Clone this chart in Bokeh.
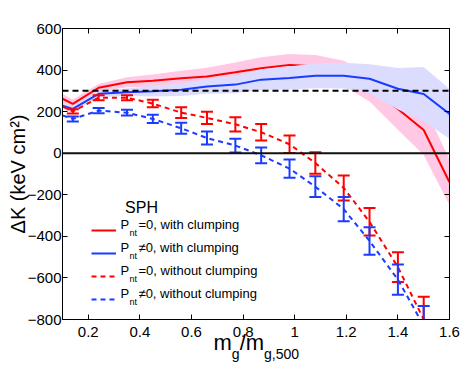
import numpy as np
from bokeh.plotting import figure
from bokeh.models import (Range1d, LinearAxis, FixedTicker, Span, Label,
                          Legend, LegendItem)
from bokeh.embed import file_html
from bokeh.resources import INLINE

# ---------------- data ----------------
x_solid = [0.10, 0.14, 0.24, 0.35, 0.45, 0.56, 0.66, 0.77, 0.87, 0.98,
           1.08, 1.19, 1.29, 1.40, 1.50, 1.60]
dk_nt0_clump = [262, 237, 315, 341, 349, 361, 369, 389, 409, 425,
                418, 385, 314, 213, 112, -140]
dk_nt0_clump_err = [23, 22, 18, 24, 30, 36, 42, 48, 53, 52,
                    55, 60, 65, 100, 120, 110]
dk_nt1_clump = [229, 213, 286, 293, 298, 305, 321, 330, 354, 362,
                373, 373, 358, 310, 285, 189]
dk_nt1_clump_err = [15, 15, 15, 18, 25, 30, 35, 42, 50, 55,
                    60, 62, 70, 100, 130, 120]

x_dash = [0.10, 0.14, 0.24, 0.35, 0.45, 0.56, 0.66, 0.77, 0.87, 0.98,
          1.08, 1.19, 1.29, 1.40, 1.50]
dk_nt0_noclump = [225, 201, 267, 267, 239, 195, 170, 139, 101, 43,
                  -47, -167, -330, -548, -800]
dk_nt0_noclump_err = [None, 10, 12, 12, 18, 26, 30, 34, 40, 42,
                      52, 60, 66, 72, 110]
dk_nt1_noclump = [182, 165, 205, 195, 165, 120, 73, 37, -10, -74,
                  -161, -269, -422, -608, -830]
dk_nt1_noclump_err = [None, 12, 13, 14, 20, 26, 31, 33, 38, 44,
                      50, 58, 66, 73, 95]

ref_level = 300
zero_level = 0

x_ticks = [0.2, 0.4, 0.6, 0.8, 1.0, 1.2, 1.4, 1.6]
x_tick_labels = ["0.2", "0.4", "0.6", "0.8", "1", "1.2", "1.4", "1.6"]
y_ticks = [-800, -600, -400, -200, 0, 200, 400, 600]
y_tick_labels = ["\u2212800", "\u2212600", "\u2212400", "\u2212200", "0", "200", "400", "600"]

y_title = "\u0394K (keV cm\u00b2)"
# x title "m_g / m_g,500": main-size pieces and subscript pieces
x_title_main = ["m", "/m"]
x_title_sub = ["g", "g,500"]
# horizontal anchor (in x-axis units) of each piece's centre
x_title_main_at = [0.721, 0.834]
x_title_sub_at = [0.771, 0.949]

legend_title = "SPH"
legend_main = ["P", "P", "P", "P"]
legend_sub = ["nt", "nt", "nt", "nt"]
legend_rest = ["=0, with clumping", "\u22600, with clumping",
               "=0, without clumping", "\u22600, without clumping"]

RED = "#ff0000"
BLUE = "#1a3cff"
PINK = "#ffc8e4"
LAV = "#dcdcff"
FONT = "Liberation Sans"

# ---------------- figure ----------------
p = figure(width=463, height=366, output_backend="svg", toolbar_location=None,
           x_range=Range1d(0.1, 1.6), y_range=Range1d(-800, 600),
           min_border_left=62, min_border_right=14, min_border_top=28,
           min_border_bottom=47)
p.grid.visible = False
p.outline_line_color = "black"
p.outline_line_width = 1
p.background_fill_color = "white"

xs = np.array(x_solid)
r0 = np.array(dk_nt0_clump); w0 = np.array(dk_nt0_clump_err)
r1 = np.array(dk_nt1_clump); w1 = np.array(dk_nt1_clump_err)

p.varea(x=xs, y1=r0 - w0, y2=r0 + w0, fill_color=PINK)
l_red = p.line(xs, r0, line_color=RED, line_width=2)
p.varea(x=xs, y1=r1 - w1, y2=r1 + w1, fill_color=LAV)
l_blue = p.line(xs, r1, line_color=BLUE, line_width=2)

p.add_layout(Span(location=ref_level, dimension="width", line_color="black",
                  line_width=2, line_dash="6 4"))
p.add_layout(Span(location=zero_level, dimension="width", line_color="#111111",
                  line_width=2))

def dashed_with_err(x, y, err, color):
    r = p.line(x, y, line_color=color, line_width=2, line_dash="5 4")
    xe = np.array([a for a, e in zip(x, err) if e is not None])
    ye = np.array([b for b, e in zip(y, err) if e is not None])
    ee = np.array([e for e in err if e is not None])
    p.segment(x0=xe, y0=ye - ee, x1=xe, y1=ye + ee, line_color=color, line_width=2)
    p.scatter(xe, ye - ee, marker="dash", size=12, line_color=color, line_width=2)
    p.scatter(xe, ye + ee, marker="dash", size=12, line_color=color, line_width=2)
    return r

l_red_d = dashed_with_err(x_dash, dk_nt0_noclump, dk_nt0_noclump_err, RED)
l_blue_d = dashed_with_err(x_dash, dk_nt1_noclump, dk_nt1_noclump_err, BLUE)

# ---------------- axes ----------------
def style_axis(ax, ticks, labels, show_labels):
    ax.ticker = FixedTicker(ticks=ticks)
    ax.minor_tick_line_color = None
    ax.major_tick_in = 5
    ax.major_tick_out = 0
    ax.major_tick_line_color = "black"
    ax.axis_line_color = "black"
    ax.major_label_overrides = {t: (l if show_labels else "") for t, l in zip(ticks, labels)}
    ax.major_label_text_font = FONT
    ax.major_label_text_color = "black"
    if show_labels:
        ax.major_label_text_font_size = "15px"
    else:
        ax.major_label_text_font_size = "1px"
        ax.major_label_standoff = 0

style_axis(p.xaxis[0], x_ticks, x_tick_labels, True)
p.xaxis[0].major_label_standoff = 7
style_axis(p.yaxis[0], y_ticks, y_tick_labels, True)
p.yaxis[0].major_label_standoff = 1

p.yaxis[0].axis_label = y_title
p.yaxis[0].axis_label_text_font = FONT
p.yaxis[0].axis_label_text_font_size = "20px"
p.yaxis[0].axis_label_text_font_style = "normal"
p.yaxis[0].axis_label_text_color = "black"
p.yaxis[0].axis_label_standoff = -4

ax_r = LinearAxis()
style_axis(ax_r, y_ticks, y_tick_labels, False)
p.add_layout(ax_r, "right")
ax_t = LinearAxis()
style_axis(ax_t, x_ticks, x_tick_labels, False)
p.add_layout(ax_t, "above")

# x title pieces drawn as the labels of two extra label-only axes
def title_axis(at, texts, size, standoff):
    ax = LinearAxis(ticker=FixedTicker(ticks=at),
                    major_label_overrides={a: t for a, t in zip(at, texts)},
                    major_label_text_font=FONT, major_label_text_font_size=size,
                    major_label_text_color="black", major_label_standoff=standoff,
                    major_tick_line_color=None, minor_tick_line_color=None,
                    axis_line_color=None, major_tick_in=0, major_tick_out=0)
    p.add_layout(ax, "below")
    return ax

title_axis(x_title_main_at, x_title_main, "22px", -10)
title_axis(x_title_sub_at, x_title_sub, "14px", -12)

# ---------------- legend ----------------
def lab(text, x, y, size, **kw):
    p.add_layout(Label(x=x, y=y, x_units="screen", y_units="screen", text=text,
                       text_font=FONT, text_font_size=size, text_color="black", **kw))

items = [LegendItem(label=" ", renderers=[r]) for r in (l_red, l_blue, l_red_d, l_blue_d)]
leg = Legend(items=items, location=(29, 10), padding=0, margin=0, spacing=3,
             glyph_width=25, glyph_height=20, label_height=20, label_width=1,
             label_standoff=0, label_text_font_size="1px",
             border_line_color=None, background_fill_alpha=0)
p.add_layout(leg)

lab(legend_title, 79, 104, "16px", text_align="center")
for i, (m_, s_, r_) in enumerate(zip(legend_main, legend_sub, legend_rest)):
    yc = 89 - 23 * i
    lab(m_, 58, yc - 1, "13px")
    lab(s_, 67, yc - 7, "9px")
    lab(r_, 76, yc - 1, "13px")

open("out.html", "w").write(file_html(p, INLINE))
